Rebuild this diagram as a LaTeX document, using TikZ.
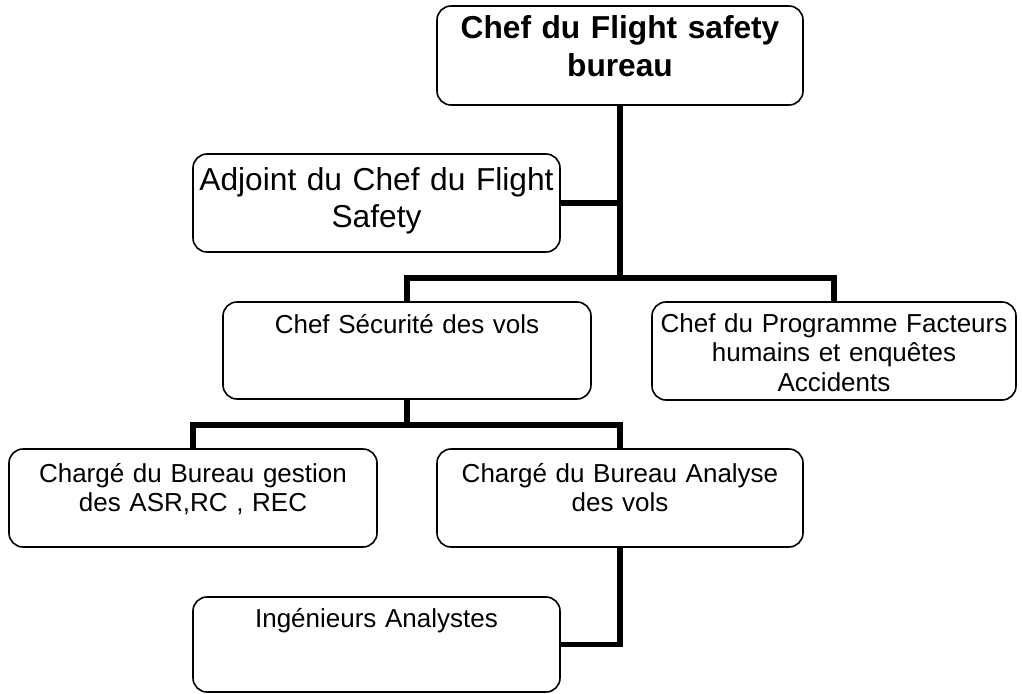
\documentclass[tikz,border=0pt]{standalone}
\usepackage{fontspec}
\setmainfont{Liberation Sans}
\begin{document}
\begin{tikzpicture}[x=1pt,y=-1pt,
  box/.style={draw, line width=1.6pt, rounded corners=14pt, inner sep=0pt},
  conn/.style={line width=5.5pt, line join=miter},
  big/.style={font=\fontsize{31.7}{37.5}\selectfont, align=center, inner sep=0pt, anchor=base},
  small/.style={font=\fontsize{26}{29.5}\selectfont, align=center, inner sep=0pt, anchor=base}]
\useasboundingbox (0,0) rectangle (1022,693);
% boxes
\node[box, minimum width=366pt, minimum height=99pt] (top) at (620,55.5) {};
\node[box, minimum width=367pt, minimum height=98pt] (adj) at (376.5,203) {};
\node[box, minimum width=368pt, minimum height=97pt] (sec) at (407,350.5) {};
\node[box, minimum width=364pt, minimum height=98pt] (prog) at (834,351) {};
\node[box, minimum width=368pt, minimum height=98pt] (gest) at (193,498) {};
\node[box, minimum width=366pt, minimum height=98pt] (ana) at (620,498) {};
\node[box, minimum width=367pt, minimum height=95pt] (ing) at (376.5,644.5) {};
% texts
\node[big, font=\fontsize{31.7}{37.5}\selectfont\bfseries, text width=366pt] (topT) at (620,39) {Chef du Flight safety\\bureau};
\node[big, text width=367pt] (adjT) at (376.5,190) {Adjoint du Chef du Flight\\Safety};
\node[small, text width=368pt] (secT) at (407,333) {Chef Sécurité des vols};
\node[small, text width=364pt] (progT) at (834,332) {Chef du Programme Facteurs\\humains et enquêtes\\Accidents};
\node[small, text width=368pt] (gestT) at (193,482) {Chargé du Bureau gestion\\des ASR,RC , REC};
\node[small, text width=366pt] (anaT) at (620,482) {Chargé du Bureau Analyse\\des vols};
\node[small, text width=367pt] (ingT) at (376.5,627) {Ingénieurs Analystes};
% connectors
\path (top.south) ++(0,172) coordinate (j1);
\path (sec.south) ++(0,25) coordinate (j2);
\draw[conn] (top.south) -- (j1);
\draw[conn] (adj.east) -- (adj.east -| j1);
\draw[conn] (sec.north) |- (j1) -| (prog.north);
\draw[conn] (sec.south) -- (j2);
\draw[conn] (gest.north) |- (j2) -| (ana.north);
\draw[conn] (ana.south) |- (ing.east);
\end{tikzpicture}
\end{document}
